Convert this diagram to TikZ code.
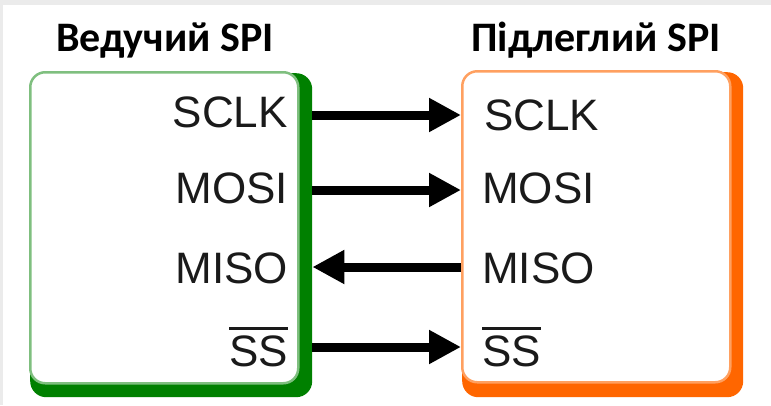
\documentclass[tikz,border=0pt]{standalone}
\usepackage{fontspec}
\setmainfont{Liberation Sans}
\newfontfamily\titlefont{Carlito}
\usetikzlibrary{arrows.meta}
\definecolor{dkgreen}{HTML}{008000}
\definecolor{ltgreen}{HTML}{7FBF7F}
\definecolor{dkorange}{HTML}{FF6600}
\definecolor{ltorange}{HTML}{FFA060}
\definecolor{txt}{HTML}{1A1A1A}
\definecolor{edgegray}{HTML}{EBEBEB}
\newcommand\ovlsig[1]{\leavevmode\vbox{\hrule height 3pt\kern 5pt\hbox{#1}}}
\tikzset{
  shadowbox/.style={rounded corners=16pt, inner sep=0pt, anchor=north west},
  panel/.style={fill=white, line width=2.5pt, rounded corners=15pt, inner sep=0pt,
    minimum width=268pt, minimum height=311pt, anchor=north west},
  title/.style={font=\titlefont\bfseries\fontsize{42}{48}\selectfont, text=black, inner sep=0pt, anchor=base},
  sigL/.style={font=\fontsize{44}{50}\selectfont, text=txt, inner sep=0pt, anchor=base east},
  sigR/.style={font=\fontsize{44}{50}\selectfont, text=txt, inner sep=0pt, anchor=base west},
  wire/.style={line width=9pt, -{Triangle[length=32pt,width=32pt]}, shorten >=0pt}
}
\begin{document}
\begin{tikzpicture}[x=1pt,y=-1pt]
\useasboundingbox (0,0) rectangle (771,405);
\fill[edgegray] (0,0) rectangle (771,405);
\fill[white] (3,5) rectangle (771,405);

% master
\node[shadowbox, fill=dkgreen, minimum width=282pt, minimum height=324pt] (mshadow) at (30,73) {};
\node[panel, draw=ltgreen] (master) at (29,71) {};
% slave
\node[shadowbox, fill=dkorange, minimum width=281pt, minimum height=325pt] (sshadow) at (462,72) {};
\node[panel, draw=ltorange] (slave) at (461,70) {};

\node[title] (tm) at (165,51) {Ведучий SPI};
\node[title] (ts) at (596,51) {Підлеглий SPI};

\node[sigL] (msclk) at (288,127) {SCLK};
\node[sigL] (mmosi) at (288,203) {MOSI};
\node[sigL] (mmiso) at (288,283) {MISO};
\node[sigL] (mss) at (288,366) {\ovlsig{SS}};

\node[sigR] (ssclk) at (484,130) {SCLK};
\node[sigR] (smosi) at (482,203) {MOSI};
\node[sigR] (smiso) at (482,283) {MISO};
\node[sigR] (sss) at (482,366) {\ovlsig{SS}};

\coordinate (y1) at (0,115);
\coordinate (y2) at (0,190);
\coordinate (y3) at (0,267);
\coordinate (y4) at (0,347);

\draw[wire] (mshadow.east |- y1) -- (slave.west |- y1);
\draw[wire] (mshadow.east |- y2) -- (slave.west |- y2);
\draw[wire] (slave.west |- y3) -- (mshadow.east |- y3);
\draw[wire] (mshadow.east |- y4) -- (slave.west |- y4);
\end{tikzpicture}
\end{document}
